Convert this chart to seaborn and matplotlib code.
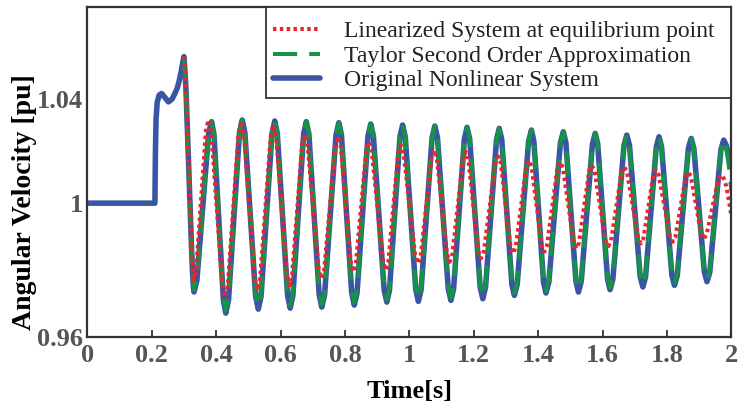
import matplotlib
matplotlib.use("Agg")
import matplotlib.pyplot as plt
import seaborn as sns

# ---------------- data ----------------
# Original nonlinear system: time [s] and angular velocity [pu]
t_orig = [0.000, 0.210, 0.2115, 0.2135, 0.217, 0.223, 0.231, 0.241, 0.252, 0.263, 0.272, 0.280, 0.286, 0.292, 0.296, 0.300,
          0.3035, 0.3065, 0.310, 0.3137, 0.3175, 0.321, 0.324, 0.327, 0.3295, 0.3314,
          0.3402, 0.3585, 0.3768, 0.386,
          0.3933, 0.408, 0.4227, 0.430,
          0.4385, 0.4555, 0.4725, 0.481,
          0.4893, 0.506, 0.5227, 0.531,
          0.5395, 0.5565, 0.5735, 0.582,
          0.590, 0.606, 0.622, 0.630,
          0.6383, 0.655, 0.6717, 0.680,
          0.688, 0.704, 0.720, 0.728,
          0.7368, 0.7545, 0.7722, 0.781,
          0.789, 0.805, 0.821, 0.829,
          0.8375, 0.8545, 0.8715, 0.880,
          0.8883, 0.905, 0.9217, 0.930,
          0.9382, 0.9545, 0.9708, 0.979,
          0.9872, 1.0035, 1.0198, 1.028,
          1.0365, 1.0535, 1.0705, 1.079,
          1.0873, 1.104, 1.1207, 1.129,
          1.1373, 1.154, 1.1707, 1.179,
          1.1872, 1.2035, 1.2198, 1.228,
          1.2365, 1.2535, 1.2705, 1.279,
          1.2868, 1.3025, 1.3182, 1.326,
          1.3348, 1.3525, 1.3702, 1.379,
          1.3865, 1.4015, 1.4165, 1.424,
          1.433, 1.451, 1.469, 1.478,
          1.4858, 1.5015, 1.5172, 1.525,
          1.5337, 1.551, 1.5683, 1.577,
          1.5847, 1.600, 1.6153, 1.623,
          1.6317, 1.649, 1.6663, 1.675,
          1.6833, 1.700, 1.7167, 1.725,
          1.7333, 1.750, 1.7667, 1.775,
          1.783, 1.799, 1.815, 1.823,
          1.8317, 1.849, 1.8663, 1.875,
          1.8832, 1.8995, 1.9158, 1.924,
          1.9327, 1.950, 1.9673, 1.976,
          1.984, 1.991]
w_orig = [1.0000, 1.0000, 1.0150, 1.0250, 1.0300, 1.0322, 1.0327, 1.0315, 1.0302, 1.0310, 1.0327, 1.0345, 1.0367, 1.0395, 1.0417, 1.0437,
          1.0390, 1.0337, 1.0240, 1.0138, 1.0040, 0.9940, 0.9860, 0.9790, 0.9750, 0.9735,
          0.9769, 0.9989, 1.0209, 1.0243,
          1.0205, 0.9958, 0.9710, 0.9672,
          0.9711, 0.9960, 1.0209, 1.0248,
          1.0210, 0.9966, 0.9722, 0.9684,
          0.9722, 0.9965, 1.0207, 1.0245,
          1.0208, 0.9966, 0.9724, 0.9687,
          0.9724, 0.9965, 1.0206, 1.0243,
          1.0206, 0.9967, 0.9727, 0.9690,
          0.9727, 0.9965, 1.0203, 1.0240,
          1.0204, 0.9968, 0.9732, 0.9696,
          0.9732, 0.9966, 1.0200, 1.0236,
          1.0200, 0.9971, 0.9741, 0.9705,
          0.9740, 0.9969, 1.0198, 1.0233,
          1.0198, 0.9970, 0.9742, 0.9707,
          0.9742, 0.9969, 1.0195, 1.0230,
          1.0195, 0.9970, 0.9745, 0.9710,
          0.9745, 0.9968, 1.0191, 1.0226,
          1.0192, 0.9971, 0.9749, 0.9715,
          0.9749, 0.9969, 1.0189, 1.0223,
          1.0190, 0.9974, 0.9758, 0.9725,
          0.9758, 0.9972, 1.0185, 1.0218,
          1.0185, 0.9975, 0.9765, 0.9732,
          0.9764, 0.9973, 1.0181, 1.0213,
          1.0181, 0.9974, 0.9767, 0.9735,
          0.9767, 0.9972, 1.0176, 1.0208,
          1.0177, 0.9975, 0.9773, 0.9742,
          0.9773, 0.9973, 1.0172, 1.0203,
          1.0173, 0.9977, 0.9780, 0.9750,
          0.9780, 0.9974, 1.0168, 1.0198,
          1.0168, 0.9977, 0.9785, 0.9755,
          0.9784, 0.9974, 1.0164, 1.0193,
          1.0164, 0.9980, 0.9795, 0.9766,
          0.9794, 0.9977, 1.0160, 1.0188,
          1.0172, 1.0140]

# Taylor second order approximation (starts at fault clearing, t = 0.3 s)
t_taylor = t_orig[15:-2] + [1.984, 1.992, 2.000]
w_taylor = [1.0437,
            1.0390, 1.0337, 1.0240, 1.0138, 1.0040, 0.9940, 0.9860, 0.9792, 0.9755, 0.9742,
            0.9775, 0.9989, 1.0209, 1.0243,
            1.0205, 0.9958, 0.9716, 0.9679,
            0.9717, 0.9960, 1.0209, 1.0248,
            1.0210, 0.9966, 0.9728, 0.9691,
            0.9728, 0.9965, 1.0207, 1.0245,
            1.0208, 0.9966, 0.9730, 0.9694,
            0.9730, 0.9965, 1.0206, 1.0243,
            1.0206, 0.9967, 0.9733, 0.9697,
            0.9733, 0.9965, 1.0203, 1.0240,
            1.0204, 0.9968, 0.9738, 0.9703,
            0.9738, 0.9966, 1.0200, 1.0236,
            1.0200, 0.9971, 0.9747, 0.9712,
            0.9746, 0.9969, 1.0198, 1.0233,
            1.0198, 0.9970, 0.9748, 0.9714,
            0.9748, 0.9969, 1.0195, 1.0230,
            1.0195, 0.9970, 0.9751, 0.9717,
            0.9751, 0.9968, 1.0191, 1.0226,
            1.0192, 0.9971, 0.9755, 0.9722,
            0.9755, 0.9969, 1.0189, 1.0223,
            1.0190, 0.9974, 0.9764, 0.9732,
            0.9764, 0.9972, 1.0185, 1.0218,
            1.0185, 0.9975, 0.9771, 0.9739,
            0.9770, 0.9973, 1.0181, 1.0213,
            1.0181, 0.9974, 0.9773, 0.9742,
            0.9773, 0.9972, 1.0176, 1.0208,
            1.0177, 0.9975, 0.9779, 0.9749,
            0.9779, 0.9973, 1.0172, 1.0203,
            1.0173, 0.9977, 0.9786, 0.9757,
            0.9786, 0.9974, 1.0168, 1.0198,
            1.0168, 0.9977, 0.9791, 0.9762,
            0.9790, 0.9974, 1.0164, 1.0193,
            1.0164, 0.9980, 0.9801, 0.9773,
            0.9800, 0.9977, 1.0160, 1.0188,
            1.0165, 1.0110, 1.0035]

# Linearized system at the equilibrium point
t_lin = [0.300, 0.3035, 0.3065, 0.310, 0.3137, 0.3175, 0.321, 0.324, 0.327, 0.329, 0.330,
         0.3377, 0.353, 0.3683, 0.376,
         0.3847, 0.402, 0.4193, 0.428,
         0.4363, 0.453, 0.4697, 0.478,
         0.4863, 0.503, 0.5197, 0.528,
         0.5363, 0.553, 0.5697, 0.578,
         0.5863, 0.603, 0.6197, 0.628,
         0.6358, 0.6515, 0.6672, 0.675,
         0.6837, 0.701, 0.7183, 0.727,
         0.7357, 0.753, 0.7703, 0.779,
         0.7868, 0.8025, 0.8182, 0.826,
         0.834, 0.850, 0.866, 0.874,
         0.8828, 0.9005, 0.9182, 0.927,
         0.9347, 0.950, 0.9653, 0.973,
         0.982, 1.000, 1.018, 1.027,
         1.0353, 1.052, 1.0687, 1.077,
         1.085, 1.101, 1.117, 1.125,
         1.1333, 1.150, 1.1667, 1.175,
         1.1828, 1.1985, 1.2142, 1.222,
         1.231, 1.249, 1.267, 1.276,
         1.2837, 1.299, 1.3143, 1.322,
         1.3302, 1.3465, 1.3628, 1.371,
         1.379, 1.395, 1.411, 1.419,
         1.4272, 1.4435, 1.4598, 1.468,
         1.4765, 1.4935, 1.5105, 1.519,
         1.5268, 1.5425, 1.5582, 1.566,
         1.5747, 1.592, 1.6093, 1.618,
         1.6262, 1.6425, 1.6588, 1.667,
         1.6757, 1.693, 1.7103, 1.719,
         1.7267, 1.742, 1.7573, 1.765,
         1.7738, 1.7915, 1.8092, 1.818,
         1.826, 1.842, 1.858, 1.866,
         1.874, 1.890, 1.906, 1.914,
         1.923, 1.941, 1.959, 1.968,
         1.976, 1.984, 1.992, 2.000]
w_lin = [1.0437, 1.0390, 1.0337, 1.0245, 1.0145, 1.0050, 0.9955, 0.9880, 0.9812, 0.9775, 0.9764,
         0.9796, 1.0006, 1.0216, 1.0248,
         1.0213, 0.9984, 0.9755, 0.9720,
         0.9755, 0.9983, 1.0210, 1.0245,
         1.0211, 0.9993, 0.9774, 0.9740,
         0.9773, 0.9987, 1.0200, 1.0233,
         1.0201, 0.9994, 0.9787, 0.9755,
         0.9785, 0.9980, 1.0175, 1.0205,
         1.0176, 0.9990, 0.9804, 0.9775,
         0.9803, 0.9987, 1.0170, 1.0198,
         1.0171, 0.9997, 0.9822, 0.9795,
         0.9821, 0.9989, 1.0157, 1.0183,
         1.0157, 0.9992, 0.9826, 0.9800,
         0.9825, 0.9987, 1.0148, 1.0173,
         1.0149, 0.9997, 0.9844, 0.9820,
         0.9843, 0.9989, 1.0135, 1.0158,
         1.0136, 0.9992, 0.9847, 0.9825,
         0.9847, 0.9989, 1.0131, 1.0153,
         1.0132, 0.9994, 0.9856, 0.9835,
         0.9855, 0.9987, 1.0119, 1.0139,
         1.0120, 0.9995, 0.9869, 0.9850,
         0.9869, 0.9989, 1.0109, 1.0128,
         1.0110, 0.9992, 0.9873, 0.9855,
         0.9873, 0.9989, 1.0105, 1.0123,
         1.0106, 0.9994, 0.9882, 0.9865,
         0.9882, 0.9989, 1.0096, 1.0113,
         1.0097, 0.9993, 0.9888, 0.9872,
         0.9888, 0.9990, 1.0092, 1.0108,
         1.0093, 0.9994, 0.9895, 0.9880,
         0.9895, 0.9990, 1.0084, 1.0099,
         1.0085, 0.9992, 0.9899, 0.9885,
         0.9899, 0.9989, 1.0079, 1.0093,
         1.0080, 0.9994, 0.9907, 0.9894,
         0.9907, 0.9989, 1.0071, 1.0084,
         1.0074, 1.0050, 1.0008, 0.9960]

series_labels = ["Linearized System at equilibrium point",
                 "Taylor Second Order Approximation",
                 "Original Nonlinear System"]

x_ticks = [0, 0.2, 0.4, 0.6, 0.8, 1.0, 1.2, 1.4, 1.6, 1.8, 2.0]
x_tick_labels = ["0", "0.2", "0.4", "0.6", "0.8", "1", "1.2", "1.4", "1.6", "1.8", "2"]
y_ticks = [0.96, 1.0, 1.031]
y_tick_labels = ["0.96", "1", "1.04"]

# ---------------- style ----------------
BLUE = "#3b55a5"
GREEN = "#159447"
RED = "#e8262b"

sns.set_theme(style="white")
plt.rcParams["font.family"] = ["Liberation Serif", "DejaVu Serif"]

fig = plt.figure(figsize=(7.39, 4.08), dpi=100)
ax = fig.add_axes([0.1181, 0.1733, 0.8717, 0.8096])

sns.lineplot(x=t_orig, y=w_orig, ax=ax, color=BLUE, linewidth=4.0,
             estimator=None, sort=False, legend=False)
line_orig = ax.lines[-1]
sns.lineplot(x=t_taylor, y=w_taylor, ax=ax, color=GREEN, linewidth=2.9,
             linestyle=(0, (6.0, 3.0)), estimator=None, sort=False, legend=False)
line_taylor = ax.lines[-1]
sns.lineplot(x=t_lin, y=w_lin, ax=ax, color=RED, linewidth=2.9,
             linestyle=(0, (0.85, 0.85)), estimator=None, sort=False, legend=False)
line_lin = ax.lines[-1]

ax.set_xlim(0, 2)
ax.set_ylim(0.96, 1.0585)

ax.set_xticks(x_ticks)
ax.set_xticklabels(x_tick_labels)
ax.set_yticks(y_ticks)
ax.set_yticklabels(y_tick_labels)

ax.tick_params(axis="x", direction="in", length=5, width=1.3, color="#333333",
               pad=5, labelsize=19, labelcolor="#555555", bottom=True)
ax.tick_params(axis="y", length=0, pad=3, labelsize=19, labelcolor="#555555")
for lbl in ax.get_xticklabels() + ax.get_yticklabels():
    lbl.set_fontweight("bold")

for sp in ax.spines.values():
    sp.set_visible(True)
    sp.set_color("#333333")
    sp.set_linewidth(1.6)

ax.set_xlabel("Time[s]", fontsize=19, fontweight="bold", color="black")
ax.xaxis.set_label_coords(0.5, -0.128)
ax.set_ylabel("Angular Velocity [pu]", fontsize=20, fontweight="bold", color="black")
ax.yaxis.set_label_coords(-0.078, 0.41)

# legend box spans from x = 0.2774 (axes coords) to the right spine;
# a tiny blank title adds a little room above the first entry
leg = ax.legend([line_lin, line_taylor, line_orig], series_labels,
                loc="upper left", bbox_to_anchor=(0.2774, 0.0, 0.7226, 1.0),
                mode="expand", borderaxespad=0,
                title=" ", title_fontsize=2,
                fontsize=17, handlelength=2.0, handletextpad=1.0,
                labelspacing=0.12, borderpad=0.3, frameon=True,
                fancybox=False, framealpha=1, edgecolor="#333333")
leg.get_frame().set_linewidth(1.3)
for txt in leg.get_texts():
    txt.set_color("#222222")

fig.savefig("out.png", dpi=100)
